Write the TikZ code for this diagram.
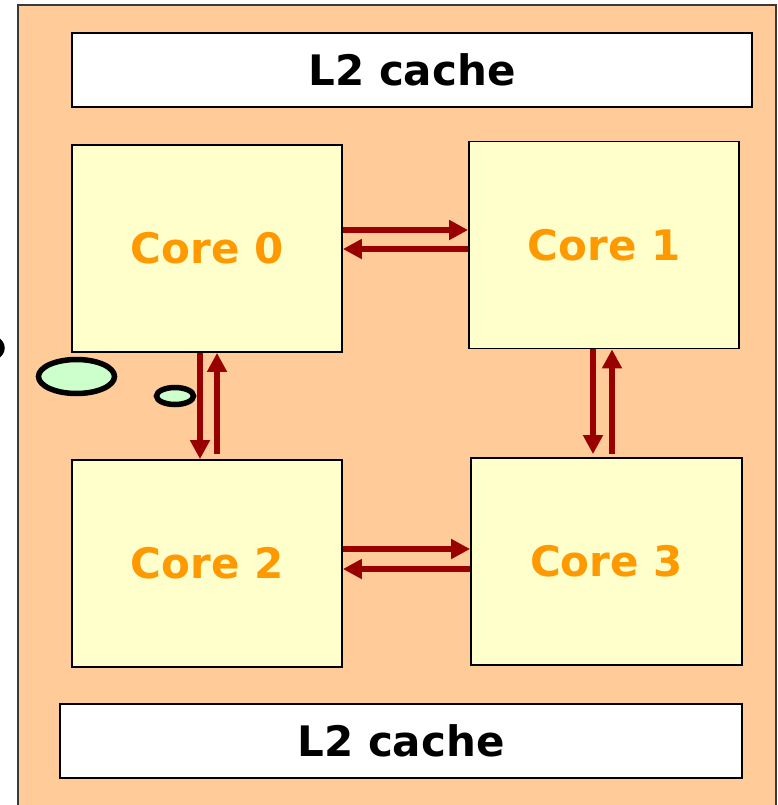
\documentclass[tikz,border=0pt]{standalone}
\usepackage{fontspec}
\setmainfont{DejaVu Sans}
\definecolor{cmpchip}{HTML}{FFCC99}
\definecolor{cmpyellow}{HTML}{FFFFCC}
\definecolor{cmporange}{HTML}{FF9900}
\definecolor{cmpred}{HTML}{990000}
\definecolor{cmpmint}{HTML}{CCFFCC}
\definecolor{cmpedge}{HTML}{3A3A3A}
\usetikzlibrary{arrows.meta,shapes.geometric}
\tikzset{
  cmpbox/.style  ={rectangle, draw=black, line width=1.8pt, inner sep=0pt,
                   font=\fontsize{42}{50}\selectfont\bfseries},
  cmpdie/.style  ={rectangle, draw=cmpedge, line width=1.6pt, fill=cmpchip},
  cmpcore/.style ={cmpbox, fill=cmpyellow, text=cmporange,
                   minimum width=270pt, minimum height=207pt},
  cmpcache/.style={cmpbox, fill=white, text=black, minimum height=74pt},
  cmparrow/.style={-{Triangle[length=19pt,width=19pt]}, line width=6.5pt, draw=cmpred},
  cmpblob/.style ={ellipse, draw=black, line width=5.5pt, fill=cmpmint, inner sep=0pt},
}

\begin{document}
\begin{tikzpicture}[x=1pt, y=-1pt]
  \useasboundingbox (0,0) rectangle (777,805);
  \clip (0,0) rectangle (777,805);
  \node[cmpdie, minimum width=758pt, minimum height=810pt] (chip) at (397,410) {};
  % caches
  \node[cmpcache, minimum width=680pt] (l2top) at (412,70) {L2 cache};
  \node[cmpcache, minimum width=682pt] (l2bot) at (401,741) {L2 cache};
  % cores
  \node[cmpcore] (c0) at (207,248.5) {Core 0};
  \node[cmpcore] (c1) at (604,245) {Core 1};
  \node[cmpcore] (c2) at (207,563.5) {Core 2};
  \node[cmpcore, minimum width=271pt] (c3) at (606.5,561.5) {Core 3};
  % links
  \draw[cmparrow] ([yshift=18.5pt]c0.east) -- ([yshift=18.5pt]c0.east -| c1.west);
  \draw[cmparrow] ([yshift=-4pt]c1.west) -- ([yshift=-4pt]c1.west -| c0.east);
  \draw[cmparrow] ([yshift=14.5pt]c2.east) -- ([yshift=14.5pt]c2.east -| c3.west);
  \draw[cmparrow] ([yshift=-7.5pt]c3.west) -- ([yshift=-7.5pt]c3.west -| c2.east);
  \draw[cmparrow] ([xshift=-7pt]c0.south) -- ([xshift=-7pt]c0.south |- c2.north);
  \draw[cmparrow, shorten <=5pt] ([xshift=10pt]c0.south |- c2.north) -- ([xshift=10pt]c0.south);
  \draw[cmparrow, shorten >=3pt] ([xshift=-11pt]c1.south) -- ([xshift=-11pt]c1.south |- c3.north);
  \draw[cmparrow, shorten <=3pt] ([xshift=8pt]c1.south |- c3.north) -- ([xshift=8pt]c1.south);
  % blobs
  \node[cmpblob, minimum width=44pt, minimum height=26pt] (blob0) at (-20,348) {};
  \node[cmpblob, minimum width=76pt, minimum height=34pt] (blob1) at (76.5,376.5) {};
  \node[cmpblob, minimum width=37pt, minimum height=17pt] (blob2) at (175,396) {};
\end{tikzpicture}
\end{document}
